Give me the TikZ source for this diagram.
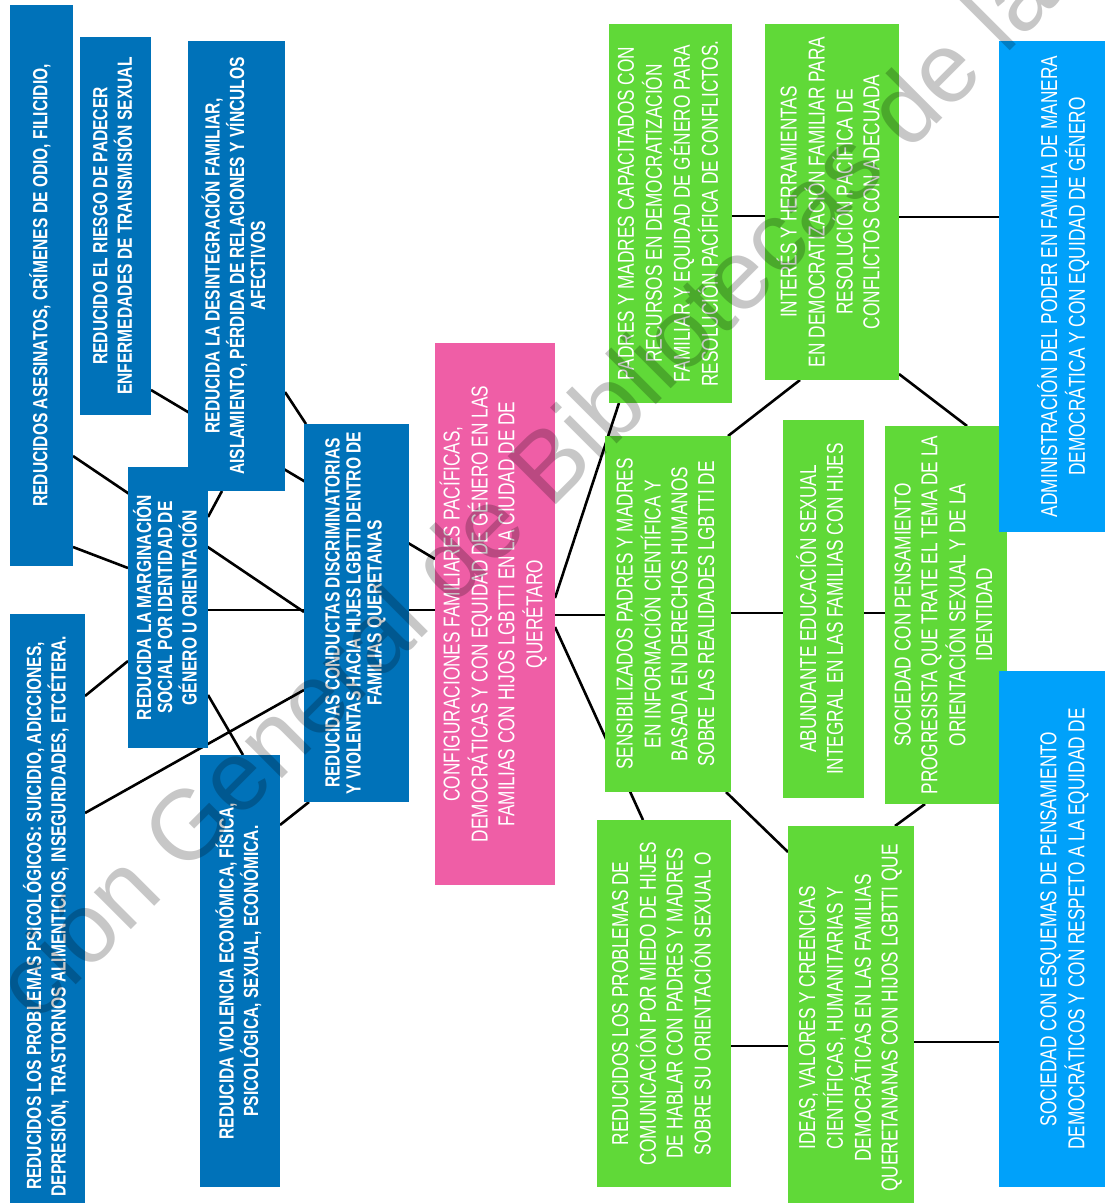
\documentclass[tikz,border=0pt]{standalone}
\usepackage{fontspec}
\setmainfont{Liberation Sans}
\newfontfamily\boldcond[FakeStretch=0.76]{Liberation Sans}
\newfontfamily\lightcond[FakeStretch=0.75]{Liberation Sans}
\usetikzlibrary{backgrounds}

\definecolor{darkblue}{RGB}{0,114,185}
\definecolor{pinkbox}{RGB}{239,94,166}
\definecolor{greenbox}{RGB}{96,217,56}
\definecolor{skyblue}{RGB}{0,161,250}

\newcommand{\vtext}[1]{\rotatebox{90}{\begin{tabular}{@{}c@{}}#1\end{tabular}}}

\tikzset{
  box/.style={inner sep=0pt, outer sep=0pt, text=white},
  bluebox/.style={box, fill=darkblue, font=\boldcond\bfseries\fontsize{20.5}{21}\selectfont},
  lightbox/.style={box, font=\lightcond\fontsize{23}{26.7}\selectfont},
  greenbox/.style={lightbox, fill=greenbox},
  pinkbox/.style={lightbox, fill=pinkbox},
  skybox/.style={lightbox, fill=skyblue},
  conn/.style={line width=2.6pt},
  watermark/.style={font=\fontsize{99}{99}\selectfont, text=black, text opacity=0.22}
}

\begin{document}
\begin{tikzpicture}[x=1pt,y=-1pt]
\useasboundingbox (0,0) rectangle (1105,1203);

% consequences (left)
\node[bluebox, minimum width=63, minimum height=561] (asesinatos) at (41.5,285.5)
  {\vtext{REDUCIDOS ASESINATOS, CRÍMENES DE ODIO, FILICIDIO,}};
\node[bluebox, minimum width=71, minimum height=378] (riesgo) at (115.5,226)
  {\vtext{REDUCIDO EL RIESGO DE PADECER\\ENFERMEDADES DE TRANSMISIÓN SEXUAL}};
\node[bluebox, minimum width=97, minimum height=450] (desintegracion) at (236.5,266)
  {\vtext{REDUCIDA LA DESINTEGRACIÓN FAMILIAR,\\AISLAMIENTO, PÉRDIDA DE RELACIONES Y VÍNCULOS\\AFECTIVOS}};
\node[bluebox, minimum width=80, minimum height=281] (marginacion) at (168,607.5)
  {\vtext{REDUCIDA LA MARGINACIÓN\\SOCIAL POR IDENTIDAD DE\\GÉNERO U ORIENTACIÓN}};
\node[bluebox, minimum width=75, minimum height=604] (psicologicos) at (47.5,916)
  {\vtext{REDUCIDOS LOS PROBLEMAS PSICOLÓGICOS: SUICIDIO, ADICCIONES,\\DEPRESIÓN, TRASTORNOS ALIMENTICIOS, INSEGURIDADES, ETCÉTERA.}};
\node[bluebox, minimum width=80, minimum height=432] (violencia) at (240,971)
  {\vtext{REDUCIDA VIOLENCIA ECONÓMICA, FÍSICA,\\PSICOLÓGICA, SEXUAL, ECONÓMICA.}};
\node[bluebox, minimum width=105, minimum height=378] (conductas) at (356.5,613)
  {\vtext{REDUCIDAS CONDUCTAS DISCRIMINATORIAS\\Y VIOLENTAS HACIA HIJES LGBTTI DENTRO DE\\FAMILIAS QUERETANAS}};

% central objective
\node[pinkbox, minimum width=120, minimum height=542] (objetivo) at (495,614)
  {\vtext{CONFIGURACIONES FAMILIARES PACÍFICAS,\\DEMOCRÁTICAS Y CON EQUIDAD DE GÉNERO EN LAS\\FAMILIAS CON HIJOS LGBTTI EN LA CIUDAD DE DE\\QUERÉTARO}};

% means (right)
\node[greenbox, minimum width=123, minimum height=379] (capacitados) at (670.5,213.5)
  {\vtext{PADRES Y MADRES CAPACITADOS CON\\RECURSOS EN DEMOCRATIZACIÓN\\FAMILIAR Y EQUIDAD DE GÉNERO PARA\\RESOLUCIÓN PACÍFICA DE CONFLICTOS.}};
\node[greenbox, minimum width=134, minimum height=356] (interes) at (832,202)
  {\vtext{INTERÉS Y HERRAMIENTAS\\EN DEMOCRATIZACIÓN FAMILIAR PARA\\RESOLUCIÓN PACÍFICA DE\\CONFLICTOS CON ADECUADA}};
\node[greenbox, minimum width=126, minimum height=356] (sensibilizados) at (668,614)
  {\vtext{SENSIBILIZADOS PADRES Y MADRES\\EN INFORMACIÓN CIENTÍFICA Y\\BASADA EN DERECHOS HUMANOS\\SOBRE LAS REALIDADES LGBTTI DE}};
\node[greenbox, minimum width=81, minimum height=378] (educacion) at (823.5,609)
  {\vtext{ABUNDANTE EDUCACIÓN SEXUAL\\INTEGRAL EN LAS FAMILIAS CON HIJES}};
\node[greenbox, minimum width=122, minimum height=378] (progresista) at (946,615)
  {\vtext{SOCIEDAD CON PENSAMIENTO\\PROGRESISTA QUE TRATE EL TEMA DE LA\\ORIENTACIÓN SEXUAL Y DE LA\\IDENTIDAD}};
\node[greenbox, minimum width=134, minimum height=367] (comunicacion) at (664,1003.5)
  {\vtext{REDUCIDOS LOS PROBLEMAS DE\\COMUNICACIÓN POR MIEDO DE HIJES\\DE HABLAR CON PADRES Y MADRES\\SOBRE SU ORIENTACIÓN SEXUAL O}};
\node[greenbox, minimum width=126, minimum height=384] (ideas) at (851,1018)
  {\vtext{IDEAS, VALORES Y CREENCIAS\\CIENTÍFICAS, HUMANITARIAS Y\\DEMOCRÁTICAS EN LAS FAMILIAS\\QUERETANANAS CON HIJOS LGBTTI QUE}};
\node[skybox, minimum width=132, minimum height=491] (poder) at (1065,286.5)
  {\vtext{ADMINISTRACIÓN DEL PODER EN FAMILIA DE MANERA\\DEMOCRÁTICA Y CON EQUIDAD DE GÉNERO}};
\node[skybox, minimum width=132, minimum height=516] (esquemas) at (1065,929)
  {\vtext{SOCIEDAD CON ESQUEMAS DE PENSAMIENTO\\DEMOCRÁTICOS Y CON RESPETO A LA EQUIDAD DE}};

\begin{scope}[on background layer]
% left side
\draw[conn] (asesinatos.east |- 0,456) -- (conductas.west |- 0,612);
\draw[conn] (asesinatos.east |- 0,547) -- (marginacion.west |- 0,568);
\draw[conn] (marginacion.east |- 0,610) -- (conductas.west |- 0,610);
\draw[conn] (marginacion.east |- 0,517) -- (desintegracion.south -| 222,0);
\draw[conn] (marginacion.east |- 0,695) -- (violencia.north -| 243,0);
\draw[conn] (psicologicos.east |- 0,696) -- (marginacion.west |- 0,661);
\draw[conn] (psicologicos.east |- 0,813) -- (conductas.west |- 0,690);
\draw[conn] (violencia.east |- 0,825) -- (conductas.south -| 309,0);
\draw[conn] (desintegracion.east |- 0,392) -- (conductas.north -| 306,0);
\draw[conn] (riesgo.east |- 0,390) -- (objetivo.west |- 0,559);
\draw[conn] (conductas.east |- 0,610) -- (objetivo.west |- 0,610);
% right side
\draw[conn] (objetivo.east |- 0,598) -- (capacitados.south -| 619,0);
\draw[conn] (objetivo.east |- 0,615) -- (sensibilizados.west |- 0,615);
\draw[conn] (objetivo.east |- 0,627) -- (comunicacion.north -| 643,0);
\draw[conn] (capacitados.east |- 0,216) -- (interes.west |- 0,216);
\draw[conn] (interes.east |- 0,217) -- (poder.west |- 0,217);
\draw[conn] (sensibilizados.north -| 728,0) -- (interes.south -| 800,0);
\draw[conn] (interes.east |- 0,374) -- (progresista.north -| 967,0);
\draw[conn] (sensibilizados.east |- 0,613) -- (educacion.west |- 0,613);
\draw[conn] (educacion.east |- 0,613) -- (progresista.west |- 0,613);
\draw[conn] (sensibilizados.south -| 726,0) -- (ideas.west |- 0,852);
\draw[conn] (ideas.north -| 895,0) -- (progresista.south -| 925,0);
\draw[conn] (comunicacion.east |- 0,1046) -- (ideas.west |- 0,1046);
\draw[conn] (ideas.east |- 0,1042) -- (esquemas.west |- 0,1042);
\end{scope}

% watermark
\node[watermark, rotate=45] (marca) at (523,487) {ción General de Bibliotecas de la};

\end{tikzpicture}
\end{document}
